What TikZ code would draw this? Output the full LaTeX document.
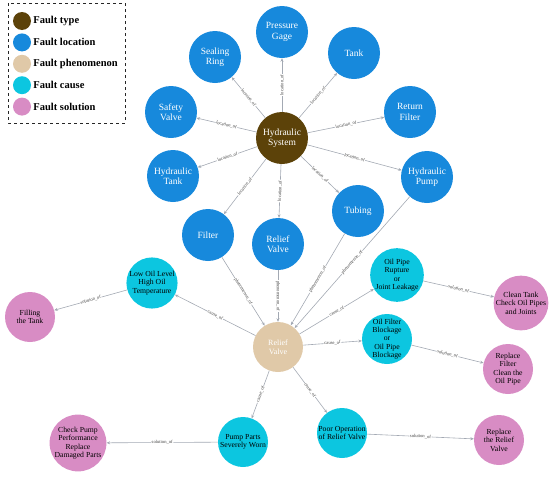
\documentclass[tikz,border=0pt]{standalone}
\usepackage{fontspec}
\setmainfont{Liberation Serif}
\usepackage{xcolor}
\definecolor{typeColor}{HTML}{5C4209}
\definecolor{locationColor}{HTML}{1789DC}
\definecolor{phenomColor}{HTML}{E0C9A8}
\definecolor{causeColor}{HTML}{0CC6E0}
\definecolor{solutionColor}{HTML}{D88CC4}
\definecolor{edgeGray}{HTML}{A3A9B3}
\usetikzlibrary{positioning,arrows.meta}
\tikzset{
  baseNode/.style={
    circle,
    minimum size=52pt,
    inner sep=0pt,
    align=center
 },
  typeNode/.style={
    baseNode,
    fill=typeColor,
    text=white,
    font=\fontsize{9.5}{10.5}\selectfont
 },
  locationNode/.style={
    baseNode,
    fill=locationColor,
    text=white,
    font=\fontsize{9.5}{10.5}\selectfont
 },
  phenomNode/.style={
    baseNode,
    minimum size=50pt,
    fill=phenomColor,
    text=white,
    font=\fontsize{8}{9}\selectfont
 },
  causeNode/.style={
    baseNode,
    minimum size=50pt,
    fill=causeColor,
    text=black,
    font=\fontsize{7.7}{8.4}\selectfont
 },
  solutionNode/.style={
    baseNode,
    minimum size=50pt,
    fill=solutionColor,
    text=black,
    font=\fontsize{7.7}{8.4}\selectfont
 },
  legendDot/.style={
    circle,
    minimum size=18pt,
    inner sep=0pt
 },
  legendText/.style={
    right=2pt of #1,
    inner sep=0pt,
    font=\fontsize{10.5}{11}\selectfont\bfseries
 },
  arrowLine/.style={
    -{Stealth[length=3.5pt,width=3pt]},
    color=edgeGray,
    line width=0.6pt
 },
  relLabel/.style={
    midway,
    sloped,
    fill=white,
    inner sep=0.6pt,
    text=black!75,
    font=\fontsize{4.6}{5}\selectfont
 }
}

\begin{document}
\begin{tikzpicture}[x=1pt,y=-1pt]
  \useasboundingbox (0,0) rectangle (550,477);

  % Legend
  \draw[dashed, line width=1pt, black!85] (8,3) rectangle (125,123);
  \node[legendDot, fill=typeColor] (lgType) at (22,21) {};
  \node[legendDot, fill=locationColor, below=3pt of lgType] (lgLoc) {};
  \node[legendDot, fill=phenomColor, below=3pt of lgLoc] (lgPhen) {};
  \node[legendDot, fill=causeColor, below=3pt of lgPhen] (lgCause) {};
  \node[legendDot, fill=solutionColor, below=3pt of lgCause] (lgSol) {};
  \node[legendText=lgType] {Fault type};
  \node[legendText=lgLoc] {Fault location};
  \node[legendText=lgPhen] {Fault phenomenon};
  \node[legendText=lgCause] {Fault cause};
  \node[legendText=lgSol] {Fault solution};

  % Fault type
  \node[typeNode] (hydSys) at (282,138) {Hydraulic\\System};

  % Fault locations
  \node[locationNode] (gage) at (282,32) {Pressure\\Gage};
  \node[locationNode] (sealRing) at (215,57) {Sealing\\Ring};
  \node[locationNode] (tank) at (354,53) {Tank};
  \node[locationNode] (safetyValve) at (171,112) {Safety\\Valve};
  \node[locationNode] (retFilter) at (410,112) {Return\\Filter};
  \node[locationNode] (hydTank) at (173,176) {Hydraulic\\Tank};
  \node[locationNode] (hydPump) at (427,177) {Hydraulic\\Pump};
  \node[locationNode] (filter) at (208,235) {Filter};
  \node[locationNode] (reliefLoc) at (278,244) {Relief\\Valve};
  \node[locationNode] (tubing) at (358,211) {Tubing};

  % Fault phenomenon
  \node[phenomNode] (reliefPhen) at (278,347) {Relief\\Valve};

  % Fault causes
  \node[causeNode] (lowOil) at (152,283) {Low Oil Level\\High Oil\\Temperature};
  \node[causeNode] (pipeRupture) at (397,275) {Oil Pipe\\Rupture\\or\\Joint Leakage};
  \node[causeNode] (filterBlock) at (387,339) {Oil Filter\\Blockage\\or\\Oil Pipe\\Blockage};
  \node[causeNode] (pumpWorn) at (243,442) {Pump Parts\\Severely Worn};
  \node[causeNode] (poorOp) at (342,433) {Poor Operation\\of Relief Valve};

  % Fault solutions
  \node[solutionNode] (fillTank) at (30,317) {Filling\\the Tank};
  \node[solutionNode] (checkPump) at (78,443) {Check Pump\\Performance\\Replace\\Damaged Parts};
  \node[solutionNode] (cleanTank) at (521,303) {Clean Tank\\Check Oil Pipes\\and Joints};
  \node[solutionNode] (replFilter) at (508,369) {Replace\\Filter\\Clean the\\Oil Pipe};
  \node[solutionNode] (replValve) at (499,440) {Replace\\the Relief\\Valve};

  % Type to locations
  \draw[arrowLine] (hydSys) -- node[relLabel] {location\_of} (gage);
  \draw[arrowLine] (hydSys) -- node[relLabel] {location\_of} (sealRing);
  \draw[arrowLine] (hydSys) -- node[relLabel] {location\_of} (tank);
  \draw[arrowLine] (hydSys) -- node[relLabel] {location\_of} (safetyValve);
  \draw[arrowLine] (hydSys) -- node[relLabel] {location\_of} (retFilter);
  \draw[arrowLine] (hydSys) -- node[relLabel] {location\_of} (hydTank);
  \draw[arrowLine] (hydSys) -- node[relLabel] {location\_of} (hydPump);
  \draw[arrowLine] (hydSys) -- node[relLabel] {location\_of} (filter);
  \draw[arrowLine] (hydSys) -- node[relLabel] {location\_of} (reliefLoc);
  \draw[arrowLine] (hydSys) -- node[relLabel] {location\_of} (tubing);

  % Locations to phenomenon
  \draw[arrowLine] (filter) -- node[relLabel] {phenomenon\_of} (reliefPhen);
  \draw[arrowLine] (reliefLoc) -- node[relLabel] {phenomenon\_of} (reliefPhen);
  \draw[arrowLine] (tubing) -- node[relLabel] {phenomenon\_of} (reliefPhen);
  \draw[arrowLine] (hydPump) -- node[relLabel] {phenomenon\_of} (reliefPhen);

  % Phenomenon to causes
  \draw[arrowLine] (reliefPhen) -- node[relLabel] {cause\_of} (lowOil);
  \draw[arrowLine] (reliefPhen) -- node[relLabel] {cause\_of} (pipeRupture);
  \draw[arrowLine] (reliefPhen) -- node[relLabel] {cause\_of} (filterBlock);
  \draw[arrowLine] (reliefPhen) -- node[relLabel] {cause\_of} (pumpWorn);
  \draw[arrowLine] (reliefPhen) -- node[relLabel] {cause\_of} (poorOp);

  % Causes to solutions
  \draw[arrowLine] (lowOil) -- node[relLabel] {solution\_of} (fillTank);
  \draw[arrowLine] (pumpWorn) -- node[relLabel] {solution\_of} (checkPump);
  \draw[arrowLine] (pipeRupture) -- node[relLabel] {solution\_of} (cleanTank);
  \draw[arrowLine] (filterBlock) -- node[relLabel] {solution\_of} (replFilter);
  \draw[arrowLine] (poorOp) -- node[relLabel] {solution\_of} (replValve);

\end{tikzpicture}
\end{document}
